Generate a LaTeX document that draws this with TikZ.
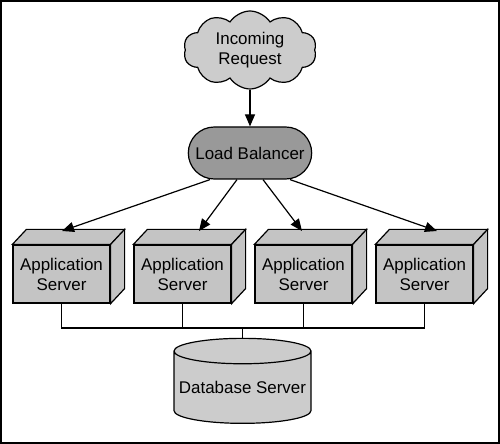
\documentclass[tikz,border=0pt]{standalone}
\usepackage{fontspec}
\setmainfont{Liberation Sans}
\usetikzlibrary{calc,positioning,arrows.meta,shapes.geometric,shapes.symbols,shapes.misc}
\definecolor{cloudgray}{RGB}{204,204,204}
\definecolor{lbgray}{RGB}{153,153,153}
\definecolor{boxgray}{RGB}{196,196,196}
\tikzset{
  >={Triangle[length=12bp,width=10bp]},
  every node/.style={font=\fontsize{17}{20}\selectfont, align=center},
  request/.style={
    cloud, cloud puffs=10, cloud puff arc=115, aspect=1.7,
    draw=black, line width=1.2bp, fill=cloudgray,
    minimum width=133bp, minimum height=78bp, inner sep=0pt},
  balancer/.style={
    rounded rectangle, draw=black, line width=1.2bp, fill=lbgray,
    minimum width=130bp, minimum height=52bp},
  appbox/.style={
    rectangle, draw=black, line width=1.2bp, fill=boxgray,
    minimum width=97bp, minimum height=58bp, inner sep=0pt,
    append after command={
      \pgfextra{
        \filldraw[line width=1.2bp, fill=boxgray] (\tikzlastnode.north west) -- ++(14,-15)
            -- ($(\tikzlastnode.north east)+(14,-15)$)
            -- (\tikzlastnode.north east) -- cycle;
        \filldraw[line width=1.2bp, fill=boxgray] (\tikzlastnode.north east) -- ++(14,-15)
            -- ($(\tikzlastnode.south east)+(14,-15)$)
            -- (\tikzlastnode.south east) -- cycle;
      }}},
  dbase/.style={
    cylinder, shape border rotate=90, aspect=0.2,
    draw=black, line width=1.2bp, fill=cloudgray,
    minimum width=137bp, minimum height=85bp, inner sep=0pt},
  line/.style={draw, line width=1.2bp},
  fanout/.style={draw, line width=1.2bp, ->}
}
\begin{document}
\begin{tikzpicture}[x=1bp, y=-1bp]
    \useasboundingbox (0,0) rectangle (500,444);
    \draw[line width=2.2bp] (1,1) rectangle (499,443);

    \node[request]  (req) at (250,50)    {Incoming\\Request};
    \node[balancer] (lb)  at (250,153)   {Load Balancer};

    \node[appbox] (a1) at (61.5,274)  {Application\\Server};
    \node[appbox] (a2) at (182.5,274) {Application\\Server};
    \node[appbox] (a3) at (303.5,274) {Application\\Server};
    \node[appbox] (a4) at (424.5,274) {Application\\Server};

    \node[dbase] (db) at (242.5,387.5) {Database Server};

    % arrow ends on the boxes
    \coordinate (t1) at (62,231);
    \coordinate (t2) at (199,231);
    \coordinate (t3) at (302,231);
    \coordinate (t4) at (437,231);
    \coordinate (bus) at (242.5,328);

    \path[fanout] (req.south) -- (lb.north);
    \path[fanout] ([xshift=-40bp]lb.south) -- (t1);
    \path[fanout] ([xshift=-13bp]lb.south) -- (t2);
    \path[fanout] ([xshift=13bp]lb.south)  -- (t3);
    \path[fanout] ([xshift=40bp]lb.south)  -- (t4);

    \foreach \n in {a1,a2,a3,a4}
        \path[line] (\n.south) |- (bus);
    \path[line] (bus) -- (db.north);
\end{tikzpicture}
\end{document}
